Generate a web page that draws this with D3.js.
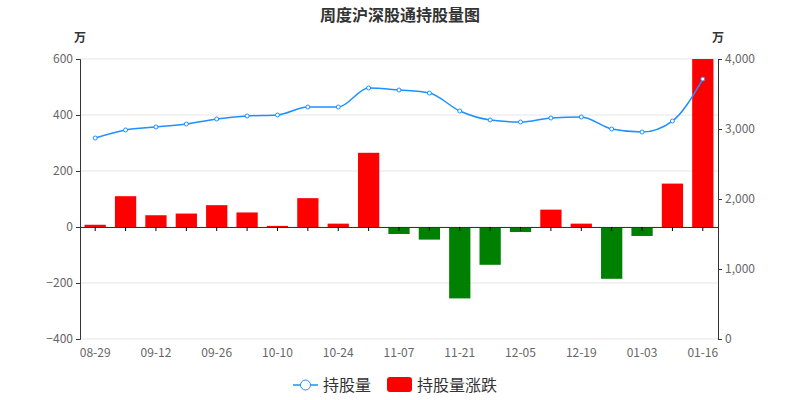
<!DOCTYPE html>
<html><head><meta charset="utf-8">
<script src="https://cdn.jsdelivr.net/npm/d3@7"></script>
<style>body{margin:0;background:#fff}text{font-family:"Noto Sans CJK SC","Noto Sans",sans-serif}</style>
</head><body><svg id="c" width="800" height="400"></svg>
<script>
const categories=["08-29","09-05","09-12","09-19","09-26","10-03","10-10","10-17","10-24","10-31","11-07","11-14","11-21","11-28","12-05","12-12","12-19","12-26","01-03","01-09","01-16"];
const changeValues=[8,110,42,48,78,52,4,103,12,265,-25,-45,-255,-135,-18,62,12,-185,-32,155,600];
const holdValues=[2871,2986,3029,3071,3143,3186,3200,3314,3314,3586,3557,3514,3257,3129,3100,3157,3171,3000,2957,3114,3714];
const leftTicks=[-400,-200,0,200,400,600];
const rightTicks=[0,1000,2000,3000,4000];
const shownLabels=["08-29","09-12","09-26","10-10","10-24","11-07","11-21","12-05","12-19","01-03","01-16"];

const svg=d3.select("#c");
const L=80,R=718,T=59,B=339;
const x=d3.scaleBand().domain(categories).range([L,R]).paddingInner(0.3).paddingOuter(0.15);
const xc=d3.scaleBand().domain(categories).range([L,R]);
const yl=d3.scaleLinear().domain([-400,600]).range([B,T]);
const yr=d3.scaleLinear().domain([0,4000]).range([B,T]);

svg.append("text").attr("x",400).attr("y",21).attr("text-anchor","middle").attr("font-size",16).attr("font-weight","bold").attr("fill","#333").text("周度沪深股通持股量图");
svg.append("text").attr("x",80).attr("y",42).attr("text-anchor","middle").attr("font-size",12).attr("font-weight","bold").attr("fill","#333").text("万");
svg.append("text").attr("x",718).attr("y",42).attr("text-anchor","middle").attr("font-size",12).attr("font-weight","bold").attr("fill","#333").text("万");

svg.append("g").selectAll("line").data(leftTicks).join("line")
 .attr("x1",L).attr("x2",R).attr("y1",d=>yl(d)).attr("y2",d=>yl(d)).attr("stroke","#e6e6e6");

svg.append("g").selectAll("rect").data(changeValues).join("rect")
 .attr("x",(d,i)=>x(categories[i])).attr("width",x.bandwidth())
 .attr("y",d=>yl(Math.max(0,d))).attr("height",d=>Math.abs(yl(d)-yl(0)))
 .attr("fill",d=>d>=0?"#ff0000":"#008000");

const gl=svg.append("g").attr("transform",`translate(${L},0)`).call(d3.axisLeft(yl).tickValues(leftTicks).tickFormat(d=>d<0?"−"+Math.abs(d):d).tickSize(4));
const gr=svg.append("g").attr("transform",`translate(${R},0)`).call(d3.axisRight(yr).tickValues(rightTicks).tickFormat(d3.format(",")).tickSize(4));
const gx=svg.append("g").attr("transform",`translate(0,${yl(0)})`).call(d3.axisBottom(xc).tickValues(categories).tickFormat(()=>"").tickSize(4));
gx.select(".domain").attr("stroke","#333");
svg.append("g").selectAll("text").data(shownLabels).join("text")
 .attr("x",d=>xc(d)+xc.bandwidth()/2).attr("y",357).attr("text-anchor","middle").attr("font-size",12).attr("fill","#666").text(d=>d);
[gl,gr].forEach(g=>{g.selectAll("text").attr("font-size",12).attr("fill","#666");g.select(".domain").attr("stroke","#333");g.selectAll(".tick line").attr("stroke","#333");});

const line=d3.line().x((d,i)=>xc(categories[i])+xc.bandwidth()/2).y(d=>yr(d)).curve(d3.curveMonotoneX);
svg.append("path").datum(holdValues).attr("d",line).attr("fill","none").attr("stroke","#1e90ff").attr("stroke-width",1.5);
svg.append("g").selectAll("circle").data(holdValues).join("circle")
 .attr("cx",(d,i)=>xc(categories[i])+xc.bandwidth()/2).attr("cy",d=>yr(d)).attr("r",2).attr("fill","#fff").attr("stroke","#1e90ff");

const lg=svg.append("g");
lg.append("line").attr("x1",293).attr("x2",318).attr("y1",385).attr("y2",385).attr("stroke","#1e90ff").attr("stroke-width",1.5);
lg.append("circle").attr("cx",305.5).attr("cy",385).attr("r",5).attr("fill","#fff").attr("stroke","#1e90ff");
lg.append("text").attr("x",323).attr("y",391).attr("font-size",16).attr("fill","#333").text("持股量");
lg.append("rect").attr("x",387).attr("y",377).attr("width",25).attr("height",15).attr("rx",3).attr("fill","#ff0000");
lg.append("text").attr("x",417).attr("y",391).attr("font-size",16).attr("fill","#333").text("持股量涨跌");
</script></body></html>
